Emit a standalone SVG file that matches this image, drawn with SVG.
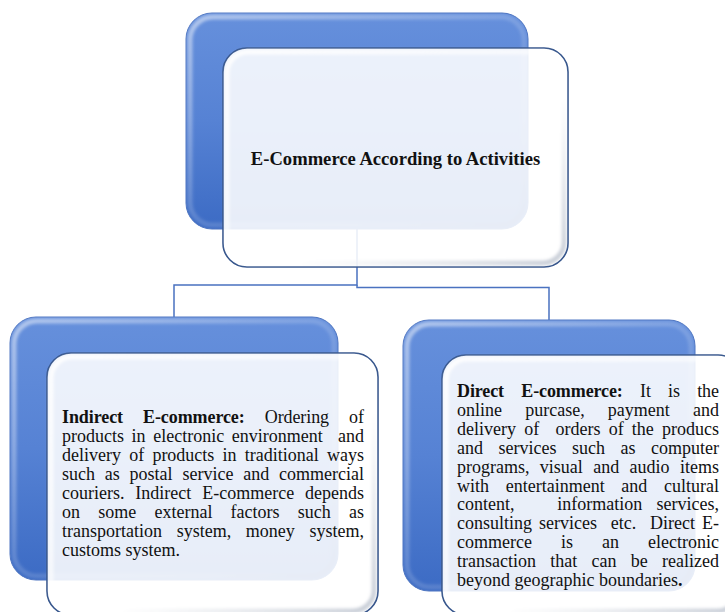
<svg xmlns="http://www.w3.org/2000/svg" width="725" height="612" viewBox="0 0 725 612">
  <defs>
    <linearGradient id="blueFill" x1="0" y1="0" x2="0" y2="1">
      <stop offset="0" stop-color="#6690dc"/>
      <stop offset="0.5" stop-color="#5682d4"/>
      <stop offset="1" stop-color="#3c6bc4"/>
    </linearGradient>
    <linearGradient id="blueEdge" x1="0" y1="0" x2="1" y2="1">
      <stop offset="0" stop-color="#ffffff" stop-opacity="0.5"/>
      <stop offset="0.5" stop-color="#ffffff" stop-opacity="0.15"/>
      <stop offset="1" stop-color="#1c3f86" stop-opacity="0.35"/>
    </linearGradient>
    <linearGradient id="cardEdge" x1="0" y1="0" x2="1" y2="1">
      <stop offset="0" stop-color="#ffffff" stop-opacity="0.9"/>
      <stop offset="0.6" stop-color="#ffffff" stop-opacity="0.5"/>
      <stop offset="1" stop-color="#b9c0cc" stop-opacity="0.8"/>
    </linearGradient>
    <filter id="soft" x="-5%" y="-5%" width="110%" height="110%">
      <feGaussianBlur stdDeviation="1.5"/>
    </filter>
  </defs>
  <style>
    .back { fill: url(#blueFill); stroke: #4a72c0; stroke-width: 1; }
    .backBevel { fill: none; stroke: url(#blueEdge); stroke-width: 5; filter: url(#soft); }
    .card { fill: #ffffff; fill-opacity: 0.88; stroke: #2c4d86; stroke-width: 1.6; }
    .cardBevel { fill: none; stroke: url(#cardEdge); stroke-width: 5; filter: url(#soft); }
    .link { fill: none; stroke: #4a72c0; stroke-width: 1.5; }
    text { font-family: "Liberation Serif", "Times New Roman", serif; font-size: 18px; fill: #111111; }
    .title { font-weight: bold; font-size: 18.6px; text-anchor: middle; }
    .b { font-weight: bold; }
  </style>

  <!-- connectors -->
  <g id="connectors">
    <path class="link" d="M357 229 V285 H174 V318"/>
    <path class="link" d="M357 285 V287.5 H549 V320"/>
  </g>

  <!-- root node -->
  <g id="root">
    <rect class="back" x="186" y="13" width="342" height="216" rx="26"/>
    <rect class="backBevel" x="190" y="17" width="334" height="208" rx="23"/>
    <rect class="card" x="223" y="48" width="345" height="219" rx="24"/>
    <rect class="cardBevel" x="227" y="52" width="337" height="211" rx="21"/>
    <text class="title" x="395.5" y="164.5">E-Commerce According to Activities</text>
  </g>

  <!-- indirect e-commerce -->
  <g id="indirect">
    <rect class="back" x="10" y="317" width="328" height="263" rx="26"/>
    <rect class="backBevel" x="14" y="321" width="320" height="255" rx="23"/>
    <rect class="card" x="47" y="353" width="331" height="262" rx="24"/>
    <rect class="cardBevel" x="51" y="357" width="323" height="254" rx="21"/>
    <text x="62" y="423" word-spacing="15.7" textLength="302" lengthAdjust="spacing"><tspan class="b">Indirect E-commerce:</tspan> Ordering of</text>
    <text x="62" y="442" xml:space="preserve" word-spacing="3.1" textLength="302" lengthAdjust="spacing">products in electronic environment  and</text>
    <text x="62" y="461" word-spacing="3.7" textLength="302" lengthAdjust="spacing">delivery of products in traditional ways</text>
    <text x="62" y="480" word-spacing="5.3" textLength="302" lengthAdjust="spacing">such as postal service and commercial</text>
    <text x="62" y="499" word-spacing="6.4" textLength="302" lengthAdjust="spacing">couriers. Indirect E-commerce depends</text>
    <text x="62" y="518" word-spacing="13.7" textLength="302" lengthAdjust="spacing">on some external factors such as</text>
    <text x="62" y="537" word-spacing="10.2" textLength="302" lengthAdjust="spacing">transportation system, money system,</text>
    <text x="62" y="556">customs system.</text>
  </g>

  <!-- direct e-commerce -->
  <g id="direct">
    <rect class="back" x="403" y="320" width="292" height="271" rx="26"/>
    <rect class="backBevel" x="407" y="324" width="284" height="263" rx="23"/>
    <rect class="card" x="442" y="355" width="300" height="260" rx="24"/>
    <rect class="cardBevel" x="446" y="359" width="292" height="252" rx="21"/>
    <text x="457" y="397" word-spacing="12.9" textLength="262" lengthAdjust="spacing"><tspan class="b">Direct E-commerce:</tspan> It is the</text>
    <text x="457" y="415.9" word-spacing="18.7" textLength="262" lengthAdjust="spacing">online purcase, payment and</text>
    <text x="457" y="434.8" xml:space="preserve" word-spacing="3.7" textLength="262" lengthAdjust="spacing">delivery of  orders of the producs</text>
    <text x="457" y="453.7" word-spacing="11" textLength="262" lengthAdjust="spacing">and services such as computer</text>
    <text x="457" y="472.6" word-spacing="5.9" textLength="262" lengthAdjust="spacing">programs, visual and audio items</text>
    <text x="457" y="491.5" word-spacing="12.2" textLength="262" lengthAdjust="spacing">with entertainment and cultural</text>
    <text x="457" y="510.4" xml:space="preserve" word-spacing="9.7" textLength="262" lengthAdjust="spacing">content,   information services,</text>
    <text x="457" y="529.3" xml:space="preserve" word-spacing="2.4" textLength="262" lengthAdjust="spacing">consulting services  etc.  Direct E-</text>
    <text x="457" y="548.2" word-spacing="24.5" textLength="262" lengthAdjust="spacing">commerce is an electronic</text>
    <text x="457" y="567.1" word-spacing="9.8" textLength="262" lengthAdjust="spacing">transaction that can be realized</text>
    <text x="457" y="586">beyond geographic boundaries<tspan class="b">.</tspan></text>
  </g>
</svg>
